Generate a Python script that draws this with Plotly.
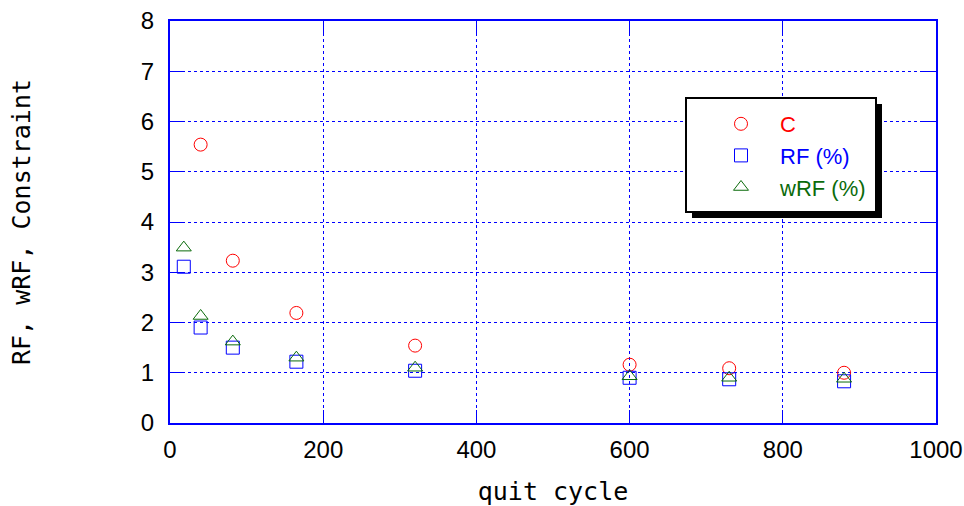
import plotly.graph_objects as go

# Data
cycles = [18, 40, 82, 165, 320, 600, 730, 880]
c_x = [40, 82, 165, 320, 600, 730, 880]
c_y = [5.54, 3.23, 2.19, 1.54, 1.16, 1.09, 1.00]
rf_vals = [3.11, 1.90, 1.50, 1.22, 1.04, 0.90, 0.87, 0.83]
wrf_vals = [3.49, 2.13, 1.62, 1.30, 1.10, 0.93, 0.90, 0.88]

x_ticks = [0, 200, 400, 600, 800, 1000]
y_ticks = [0, 1, 2, 3, 4, 5, 6, 7, 8]

RED = "#ff0000"
BLUE = "#0000ff"
GREEN = "#0b6b0b"
TICKFONT = "Liberation Sans"
MONO = "DejaVu Sans Mono"

fig = go.Figure()
fig.add_trace(go.Scatter(
    x=c_x, y=c_y, mode="markers",
    name=f'<span style="color:{RED}">C</span>',
    marker=dict(symbol="circle-open", size=13, color=RED, line=dict(width=1, color=RED)),
))
fig.add_trace(go.Scatter(
    x=cycles, y=rf_vals, mode="markers",
    name=f'<span style="color:{BLUE}">RF (%)</span>',
    marker=dict(symbol="square-open", size=13, color=BLUE, line=dict(width=1, color=BLUE)),
))
fig.add_trace(go.Scatter(
    x=cycles, y=wrf_vals, mode="markers",
    name=f'<span style="color:{GREEN}">wRF (%)</span>',
    marker=dict(symbol="triangle-up-open", size=13, color=GREEN, line=dict(width=1, color=GREEN)),
))

axis_common = dict(
    showline=True, linecolor=BLUE, linewidth=2, mirror="allticks",
    showgrid=True, gridcolor=BLUE, gridwidth=1, griddash="3px,3px",
    ticks="inside", ticklen=13, tickcolor=BLUE, tickwidth=1,
    zeroline=False, automargin=False, ticklabeloverflow="allow",
    tickfont=dict(family=TICKFONT, size=24, color="black"),
)

fig.update_xaxes(
    range=[0, 1000], tickvals=x_ticks, ticktext=[str(v) for v in x_ticks],
    ticklabelstandoff=4,
    title=dict(text="quit cycle", font=dict(family=MONO, size=25, color="black"), standoff=22),
    **axis_common,
)
fig.update_yaxes(
    range=[0, 8], tickvals=y_ticks, ticktext=[str(v) for v in y_ticks],
    ticklabelstandoff=9,
    title=dict(text="RF, wRF, Constraint", font=dict(family=MONO, size=25, color="black"), standoff=103),
    **axis_common,
)

W, H = 964, 506
ml, mr, mt, mb = 170, 28, 21, 83
pw, ph = W - ml - mr, H - mt - mb

def px2paper_x(px):
    return (px - ml) / pw

def px2paper_y(py):
    return (H - mb - py) / ph

# Legend frame: shadow + white box
fig.add_shape(type="rect", xref="paper", yref="paper", layer="above",
              x0=px2paper_x(692), x1=px2paper_x(882), y0=px2paper_y(218), y1=px2paper_y(104),
              fillcolor="black", line=dict(width=0))
fig.add_shape(type="rect", xref="paper", yref="paper", layer="above",
              x0=px2paper_x(686), x1=px2paper_x(876), y0=px2paper_y(212), y1=px2paper_y(98),
              fillcolor="white", line=dict(width=2, color="black"))

fig.update_layout(
    width=W, height=H,
    margin=dict(l=ml, r=mr, t=mt, b=mb),
    paper_bgcolor="white", plot_bgcolor="white",
    showlegend=True,
    legend=dict(
        x=px2paper_x(702), y=px2paper_y(103), xanchor="left", yanchor="top",
        bgcolor="rgba(0,0,0,0)", borderwidth=0,
        font=dict(family=TICKFONT, size=22),
        itemwidth=68, tracegroupgap=0,
    ),
)

fig.write_html("out.html")
